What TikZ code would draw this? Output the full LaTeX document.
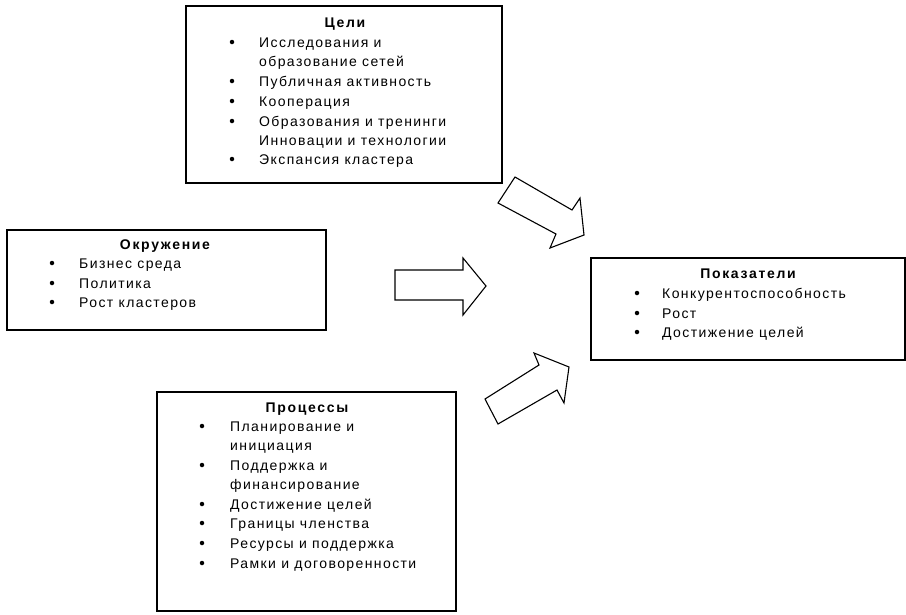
\documentclass[tikz,border=0pt]{standalone}
\usepackage{fontspec}
\setmainfont{Liberation Sans}
\newfontfamily\itemfont[LetterSpace=10]{Liberation Sans}
\newfontfamily\titlefont[LetterSpace=12]{Liberation Sans Bold}
\begin{document}
\begin{tikzpicture}[x=1pt,y=-1pt,
  box/.style={draw, line width=2pt, inner sep=0pt, anchor=north west},
  ttl/.style={font=\fontsize{14}{16}\titlefont, anchor=base, inner sep=0pt},
  itm/.style={font=\fontsize{14}{16}\itemfont, anchor=base west, inner sep=0pt},
  bul/.style={circle, fill, inner sep=0pt, minimum size=4.5pt},
  blockarrow/.style={draw, line width=1.1pt, line join=miter, fill=white}]
\useasboundingbox (0,0) rectangle (906,614);
% boxes
\node[box, minimum width=316pt, minimum height=177pt] (goals) at (185,5) {};
\node[box, minimum width=319pt, minimum height=100pt] (env) at (6,229) {};
\node[box, minimum width=314pt, minimum height=102pt] (ind) at (590,257) {};
\node[box, minimum width=299pt, minimum height=219pt] (proc) at (156,391) {};
% goals text
\node[ttl] (gt) at (345,27) {Цели};
\node[bul] (gb1) at (232,42) {};
\node[itm] (g1) at (259,47) {Исследования и};
\node[itm] (g2) at (259,66) {образование сетей};
\node[bul] (gb2) at (232,81) {};
\node[itm] (g3) at (259,86) {Публичная активность};
\node[bul] (gb3) at (232,101) {};
\node[itm] (g4) at (259,106) {Кооперация};
\node[bul] (gb4) at (232,121) {};
\node[itm] (g5) at (259,126) {Образования и тренинги};
\node[itm] (g6) at (259,145) {Инновации и технологии};
\node[bul] (gb5) at (232,159) {};
\node[itm] (g7) at (259,164) {Экспансия кластера};
% environment
\node[ttl] (et) at (165,249) {Окружение};
\node[bul] (eb1) at (52,263) {};
\node[itm] (e1) at (79,268) {Бизнес среда};
\node[bul] (eb2) at (52,283) {};
\node[itm] (e2) at (79,288) {Политика};
\node[bul] (eb3) at (52,302) {};
\node[itm] (e3) at (79,307) {Рост кластеров};
% indicators
\node[ttl] (it) at (748,278) {Показатели};
\node[bul] (ib1) at (637,293) {};
\node[itm] (i1) at (662,298) {Конкурентоспособность};
\node[bul] (ib2) at (637,313) {};
\node[itm] (i2) at (662,318) {Рост};
\node[bul] (ib3) at (637,332) {};
\node[itm] (i3) at (662,337) {Достижение целей};
% processes
\node[ttl] (pt) at (307,412) {Процессы};
\node[bul] (pb1) at (202,426) {};
\node[itm] (p1) at (230,431) {Планирование и};
\node[itm] (p2) at (230,450) {инициация};
\node[bul] (pb2) at (202,465) {};
\node[itm] (p3) at (230,470) {Поддержка и};
\node[itm] (p4) at (230,489) {финансирование};
\node[bul] (pb3) at (202,504) {};
\node[itm] (p5) at (230,509) {Достижение целей};
\node[bul] (pb4) at (202,523) {};
\node[itm] (p6) at (230,528) {Границы членства};
\node[bul] (pb5) at (202,543) {};
\node[itm] (p7) at (230,548) {Ресурсы и поддержка};
\node[bul] (pb6) at (202,563) {};
\node[itm] (p8) at (230,568) {Рамки и договоренности};
% block arrows
\draw[blockarrow] (515,177) -- (572,210) -- (580,198) -- (584,235) -- (550,248) -- (556,234) -- (498,203) -- cycle;
\draw[blockarrow] (395,270) -- (463,270) -- (463,258) -- (486,286) -- (463,315) -- (463,300) -- (395,300) -- cycle;
\draw[blockarrow] (498,424) -- (557,390) -- (564,403) -- (569,367) -- (534,353) -- (539,365) -- (485,399) -- cycle;
\end{tikzpicture}
\end{document}
